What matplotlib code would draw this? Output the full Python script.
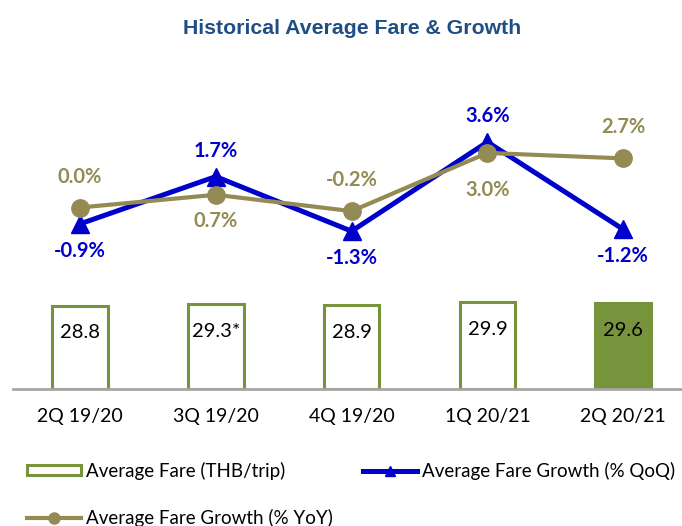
import matplotlib
matplotlib.use("Agg")
import matplotlib.pyplot as plt
from matplotlib.patches import Patch
from matplotlib.lines import Line2D

categories = ["2Q 19/20", "3Q 19/20", "4Q 19/20", "1Q 20/21", "2Q 20/21"]
fare = [28.8, 29.3, 28.9, 29.9, 29.6]
fare_labels = ["28.8", "29.3*", "28.9", "29.9", "29.6"]
qoq = [-0.9, 1.7, -1.3, 3.6, -1.2]
yoy = [0.0, 0.7, -0.2, 3.0, 2.7]
qoq_side = ["below", "above", "below", "above", "below"]
yoy_side = ["above", "below", "above", "below", "above"]

W, H = 682, 526
DPI = 100
FONT = ["Lato", "DejaVu Sans"]
GREEN = "#77933C"
BLUE = "#0000CC"
KHAKI = "#948A54"
TITLE = "#1F4E87"

fig = plt.figure(figsize=(W / DPI, H / DPI), dpi=DPI)
plt.rcParams["font.family"] = FONT

left_px, right_px = 13, 682
top_px, base_px = 100, 388.7
ax = fig.add_axes([left_px / W, (H - base_px) / H, (right_px - left_px) / W, (base_px - top_px) / H])
x = list(range(len(categories)))
spacing = 135.8
ax.set_xlim((left_px - 80) / spacing, (right_px - 80) / spacing)
ax.set_ylim(0, 100)

colors = ["white"] * (len(fare) - 1) + [GREEN]
ax.bar(x, fare, width=0.41, color=colors, edgecolor=GREEN, linewidth=2.2, zorder=2)
for xi, v, lab in zip(x, fare, fare_labels):
    ax.annotate(lab, (xi, v), xytext=(0, -27), textcoords="offset pixels",
                ha="center", va="center", fontsize=14.5, color="black", family=FONT)

for s in ["top", "right", "left"]:
    ax.spines[s].set_visible(False)
ax.spines["bottom"].set_color("#A6A6A6")
ax.spines["bottom"].set_linewidth(2)
ax.set_yticks([])
ax.set_xticks(x)
ax.set_xticklabels(categories, fontsize=14, family=FONT)
ax.tick_params(axis="x", length=0, pad=14)

ax2 = ax.twinx()
ax2.set_ylim(-9.96, 5.91)
ax2.set_xlim(ax.get_xlim())
ax2.axis("off")
ax2.plot(x, qoq, color=BLUE, lw=3.6, marker="^", ms=12.5, zorder=3, clip_on=False)
ax2.plot(x, yoy, color=KHAKI, lw=3.0, marker="o", ms=12.5, zorder=4, clip_on=False)

for xi, v, side in zip(x, qoq, qoq_side):
    off = 26 if side == "above" else -27
    ax2.annotate(f"{v:.1f}%", (xi, v), xytext=(0, off), textcoords="offset pixels",
                 ha="center", va="center", fontsize=14.5, fontweight="bold", color=BLUE, family=FONT)
for xi, v, side in zip(x, yoy, yoy_side):
    off = 31 if side == "above" else (-26 if v < 2 else -37)
    ax2.annotate(f"{v:.1f}%", (xi, v), xytext=(0, off), textcoords="offset pixels",
                 ha="center", va="center", fontsize=14.5, fontweight="bold", color=KHAKI, family=FONT)

fig.text(352 / W, 1 - 29 / H, "Historical Average Fare & Growth", ha="center", va="center",
         fontsize=15.3, fontweight="bold", color=TITLE, family=["Liberation Sans", "DejaVu Sans"])

h_fare = Patch(facecolor="white", edgecolor=GREEN, linewidth=2.2)
h_qoq = Line2D([], [], color=BLUE, lw=3.6, marker="^", ms=7)
h_yoy = Line2D([], [], color=KHAKI, lw=3.0, marker="o", ms=8)
leg = fig.legend([h_fare, h_yoy, h_qoq],
                 ["Average Fare (THB/trip)", "Average Fare Growth (% YoY)", "Average Fare Growth (% QoQ)"],
                 ncol=2, loc="upper left", bbox_to_anchor=(27 / W, 1 - 462 / H),
                 frameon=False, borderpad=0, borderaxespad=0, handlelength=2.9,
                 handleheight=0.45, handletextpad=0.25, columnspacing=1.6, labelspacing=1.55,
                 prop={"family": FONT, "size": 13.5})

fig.savefig("out.png", dpi=DPI)
